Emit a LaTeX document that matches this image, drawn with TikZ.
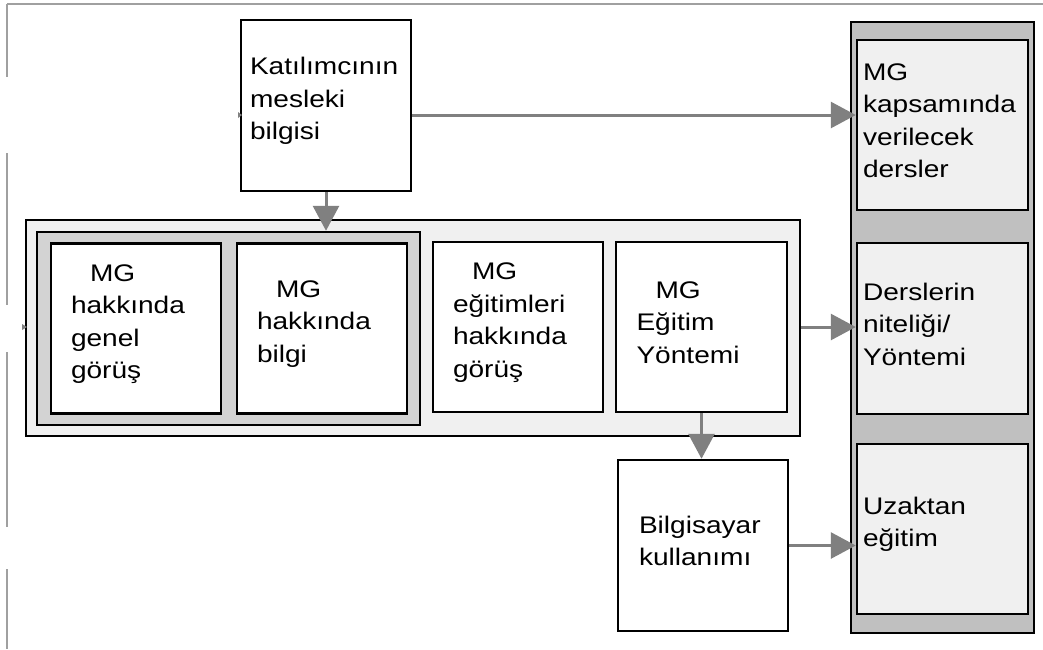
\documentclass[tikz,border=0pt]{standalone}
\usepackage{fontspec}
\newfontfamily\dfont[FakeStretch=1.17]{Liberation Sans}
\usetikzlibrary{arrows.meta}
\definecolor{paleg}{HTML}{F0F0F0}
\definecolor{midg}{HTML}{D3D3D3}
\definecolor{colg}{HTML}{C0C0C0}
\definecolor{arrg}{HTML}{808080}
\definecolor{frameg}{HTML}{A0A0A0}
% extra space under the last line, lifting the text block a little
\newcommand\tailgap{\par\vspace*{9pt}}
\begin{document}
\begin{tikzpicture}[x=1pt,y=-1pt,
  txt/.style={font=\dfont\fontsize{24pt}{32.5pt}\selectfont,
    execute at end node=\tailgap},
  panel/.style={draw=black,line width=2.5pt,inner sep=0pt},
  card/.style={panel,txt,align=left,minimum height=170pt,fill=white},
  lcard/.style={card,minimum width=170pt,inner xsep=20pt,text width=130pt},
  rcard/.style={card,minimum width=171pt,inner xsep=6pt,text width=159pt,fill=paleg},
  link/.style={draw=arrg,line width=3pt,-{Triangle[length=25pt,width=26pt]}},
  edge/.style={draw=frameg,line width=2pt}]
% page
\fill[white] (0,0) rectangle (1043,649);
\useasboundingbox (0,0) rectangle (1043,649);
\draw[edge] (7,4) -- (1043,4);
\foreach \a/\b in {4/77,153/305,352/527,569/649}
  \draw[edge] (7,\a) -- (7,\b);

% containers
\node[panel,fill=paleg,minimum width=774pt,minimum height=216pt] (cont) at (413,328) {};
\node[panel,fill=midg,minimum width=383pt,minimum height=193pt] (grp) at (228.5,328.5) {};
\node[panel,fill=colg,minimum width=183pt,minimum height=611pt] (col) at (942.5,327.5) {};

% top source box
\node[card,minimum width=170pt,minimum height=171pt,inner xsep=9pt,text width=152pt] (kat) at (326,105.5)
  {Katılımcının\\mesleki\\bilgisi};

% boxes in the wide panel
\node[lcard] (b1) at (136,328.5) {\hspace*{19pt}MG\\hakkında\\genel\\görüş};
\node[lcard] (b2) at (322,328.5) {\hspace*{19pt}MG\\hakkında\\bilgi};
\node[lcard] (b3) at (518,327) {\hspace*{19pt}MG\\eğitimleri\\hakkında\\görüş};
\node[lcard,minimum width=171pt] (b4) at (701.5,327) {\hspace*{19pt}MG\\Eğitim\\Yöntemi};

% lower box
\node[card,minimum width=170pt,minimum height=171pt,inner xsep=21pt,text width=128pt] (bil) at (703,545.5)
  {Bilgisayar\\kullanımı};

% right column
\node[rcard] (ra) at (942.5,125) {MG\\kapsamında\\verilecek\\dersler};
\node[rcard,minimum height=171pt] (rb) at (942.5,328.5) {Derslerin\\niteliği/\\Yöntemi};
\node[rcard] (rc) at (942.5,529) {Uzaktan\\eğitim};

% connectors
\coordinate (k1) at (411,115);
\draw[link] (k1 -| kat.east) -- (k1 -| ra.west);
\draw[link] (kat.south) -- (kat.south |- grp.north);
\draw[link] (cont.east |- b4.east) -- (rb.west |- b4.east);
\draw[link] (b4.south) -- (b4.south |- bil.north);
\draw[link] (bil.east) -- (rc.west |- bil.east);

% small marks at the left sides
\fill[arrg] (238,112) -- (242,115) -- (238,118) -- cycle;
\fill[arrg] (22,324) -- (27,327) -- (22,330) -- cycle;
\end{tikzpicture}
\end{document}
